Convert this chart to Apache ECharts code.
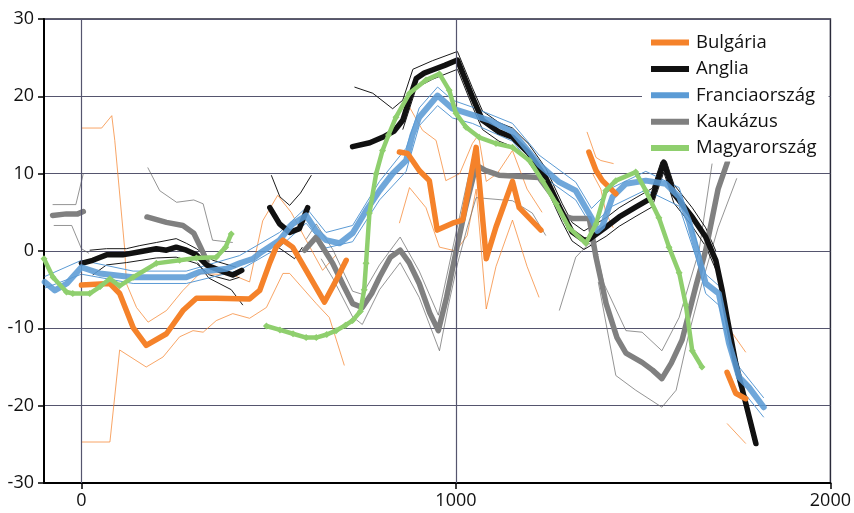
<!DOCTYPE html>
<html>
<head>
<meta charset="utf-8">
<script src="https://cdn.jsdelivr.net/npm/echarts@6/dist/echarts.min.js"></script>
<style>
  html, body { margin: 0; padding: 0; background: #fff; }
  #chart { width: 854px; height: 513px; }
</style>
</head>
<body>
<div id="chart"></div>
<script>
// Axis ticks
const xTickValues = [0, 1000, 2000];
const xVerticalLines = [0, 1000];

// Bulgária: central curve (segments) and thin bounds
const bulgaria1 = [[0,-4.4],[76,-4.2],[102,-5.5],[138,-9.9],[173,-12.2],[227,-10.7],[271,-7.7],[307,-6.1],[360,-6.1],[449,-6.2],[476,-5.1],[503,-1.5],[520,0.5],[538,1.4],[564,0.5],[600,-2.5],[649,-6.6],[680,-3.8],[707,-1.2]];
const bulgaria2 = [[849,12.8],[871,12.6],[902,10.4],[929,9.1],[950,2.7],[991,3.6],[1018,4.0],[1054,13.4],[1081,-1.0],[1107,3.1],[1151,9.0],[1169,5.6],[1227,2.7]];
const bulgaria3 = [[1355,12.8],[1374,10.4],[1391,9.1],[1427,7.4]];
const bulgaria4 = [[1724,-15.7],[1747,-18.4],[1774,-19.1]];
const bulgariaUpper1 = [[0,15.9],[54,15.9],[81,17.5],[89,14.3],[116,0],[120,-4.2],[147,-7.3],[178,-9.2],[227,-7.7],[271,-5.1],[316,-2.9],[404,-3.1],[449,-4.0],[484,3.9],[524,7.2],[560,5],[600,1.4],[644,-2.5],[680,-0.5]];
const bulgariaLower1 = [[0,-24.7],[76,-24.7],[102,-12.8],[173,-15.0],[218,-13.7],[262,-11.1],[298,-10.3],[325,-10.5],[360,-9.0],[404,-8.1],[449,-8.7],[494,-7.3],[538,-2.9],[556,-2.9],[627,-6.8],[662,-8.6],[702,-14.8]];
const bulgariaUpper2 = [[849,16],[876,18.6],[911,15.6],[947,14.3],[973,9.1],[1010,10],[1044,13.9],[1060,15],[1081,9],[1110,10],[1151,13],[1190,8],[1230,5]];
const bulgariaLower2 = [[849,3.6],[876,8.2],[920,5.6],[956,0.5],[1000,0],[1030,2],[1054,8],[1081,-7.5],[1107,-2],[1151,4],[1190,-2],[1222,-6]];
const bulgariaUpper3 = [[1350,15.4],[1374,12.1],[1387,11.7],[1421,11.3]];
const bulgariaLower3 = [[1365,10],[1387,8],[1400,5],[1420,3]];
const bulgariaUpper4 = [[1729,-10],[1774,-13.1]];
const bulgariaLower4 = [[1724,-22.3],[1774,-24.9]];

// Anglia
const anglia1 = [[0,-1.6],[30,-1.2],[67,-0.5],[110,-0.5],[156,-0.1],[200,0.3],[227,0.1],[253,0.5],[280,0.1],[307,-0.5],[334,-1.8],[369,-2.5],[404,-3.1],[428,-2.5]];
const anglia2 = [[503,5.6],[529,3.5],[556,2.4],[582,2.9],[604,5.6]];
const anglia3 = [[724,13.5],[770,14],[804,14.7],[835,15.5],[858,16.9],[875,19.5],[894,22.3],[915,23],[937,23.4],[970,24],[1004,24.7],[1044,19.9],[1071,16.9],[1115,15.4],[1151,14.7],[1195,12.6],[1240,9.5],[1284,4.9],[1310,2.5],[1342,1.4],[1356,1.5],[1401,3.1],[1436,4.4],[1481,5.7],[1524,6.9],[1555,11.5],[1582,7.4],[1631,4.4],[1667,1.8],[1694,-1.2],[1711,-5.1],[1724,-8.6],[1747,-14.5],[1774,-19.7],[1801,-24.9]];
const angliaUpper1 = [[22,0.1],[67,0.3],[120,0.3],[156,0.7],[200,1.1],[253,1.6],[280,1.0],[307,0.3],[351,-1.2],[413,-2.1]];
const angliaLower1 = [[30,-3.1],[67,-1.8],[120,-1.5],[200,-0.9],[253,-0.8],[307,-1.6],[342,-3.1],[396,-3.8],[422,-3.4]];
const angliaDrop1 = [[310,-1.5],[340,-3.5],[400,-5],[431,-7]];
const angliaUpper2 = [[507,9.8],[530,7],[556,5.9],[585,7.5],[614,9.8]];
const angliaLower2 = [[515,0.8],[540,0],[569,-1],[590,0.5]];
const angliaUpper3 = [[729,21.2],[778,20.4],[831,18.4],[858,19.5],[885,23.5],[937,24.6],[1004,25.8],[1044,21.1],[1071,18.1],[1115,16.6],[1151,15.9],[1195,13.8],[1240,10.7],[1284,6.1],[1310,3.7],[1342,2.6],[1401,4.3],[1436,5.6],[1481,6.9],[1524,8.1],[1555,12.6],[1582,8.6],[1631,5.6],[1667,3.0],[1694,0]];
const angliaLower3 = [[858,15.7],[894,21.1],[937,22.2],[1004,23.5],[1044,18.7],[1071,15.7],[1115,14.2],[1151,13.5],[1195,11.4],[1240,8.3],[1284,3.7],[1310,1.3],[1342,0.2],[1401,1.9],[1436,3.2],[1481,4.5],[1524,5.7],[1555,10.2],[1582,6.2],[1631,3.2],[1667,0.6],[1694,-2.4]];

// Franciaország
const francia = [[-98,-4.0],[-71,-5.1],[-39,-4.2],[0,-2.1],[49,-2.9],[138,-3.4],[227,-3.4],[280,-3.4],[316,-2.7],[387,-2.3],[422,-1.6],[458,-1.0],[476,-0.3],[529,1.4],[564,3.5],[600,4.6],[627,2.6],[653,1.4],[689,1.0],[724,2.3],[760,5.2],[796,7.8],[831,10.0],[867,11.7],[884,15],[902,17.3],[951,20.1],[991,18.4],[1044,17.6],[1089,16.9],[1151,15.4],[1187,13.3],[1222,11.2],[1276,8.9],[1320,7.8],[1362,4.3],[1378,2.6],[1391,3.2],[1418,7.0],[1454,8.7],[1507,9.1],[1560,8.7],[1596,7.0],[1622,3.9],[1641,0.5],[1667,-4.2],[1702,-5.5],[1729,-11.9],[1756,-16.3],[1782,-17.6],[1822,-20.2]];
const franciaUpper = [[-98,-3.3],[0,-1.2],[138,-2.6],[280,-2.6],[422,-0.6],[529,2.4],[600,5.6],[653,2.4],[724,3.3],[796,9],[867,13.3],[902,18.5],[951,21.2],[991,19.5],[1044,18.6],[1151,16.5],[1222,12.4],[1320,8.9],[1362,5.5],[1418,8.2],[1507,10.3],[1596,8.2],[1641,1.5],[1667,-3],[1702,-4.5],[1756,-15],[1822,-19]];
const franciaLower = [[-98,-4.8],[0,-3],[138,-4.2],[280,-4.2],[422,-2.5],[529,0.5],[600,3.6],[653,0.4],[724,1.2],[796,6.6],[867,10.3],[902,16.2],[951,18.8],[991,17.2],[1044,16.5],[1151,14.2],[1222,10],[1320,6.6],[1362,3.2],[1418,5.8],[1507,7.9],[1596,5.8],[1641,-0.8],[1667,-5.5],[1702,-7],[1756,-17.5],[1822,-21.5]];

// Kaukázus
const kaukazus1 = [[-77,4.6],[-40,4.8],[-10,4.8],[5,5.1]];
const kaukazus2 = [[175,4.4],[227,3.7],[271,3.3],[300,2.3],[318,0.5],[335,-1.3]];
const kaukazus3 = [[596,0.1],[627,1.8],[671,-1.6],[700,-4.5],[724,-6.8],[750,-7.3],[775,-5.5],[796,-3.4],[825,-0.8],[851,0.1],[875,-1.5],[902,-4.2],[930,-8],[953,-10.3],[975,-6],[1001,0.1],[1025,5.5],[1054,11.1],[1080,10.4],[1115,9.8],[1150,9.7],[1222,9.5],[1260,7],[1290,4.5],[1311,4.2],[1356,4.2],[1374,-0.8],[1401,-6.8],[1430,-11.2],[1454,-13.2],[1497,-14.4],[1525,-15.4],[1550,-16.5],[1575,-14.5],[1604,-11.5],[1641,-4.5],[1667,0.1],[1700,8],[1725,11.5]];
const kaukazusUpper1 = [[-77,6],[-15,6],[5,10]];
const kaukazusLower1 = [[-74,3.3],[-26,3.3],[0,0.3],[20,-0.3]];
const kaukazusUpper2 = [[177,10.8],[209,7.8],[254,6.3],[300,6.6],[325,6.1],[350,1.4],[404,1.1]];
const kaukazusUpper3 = [[600,1.5],[627,3.5],[671,0.2],[724,-5.2],[750,-5.6],[796,-1.8],[851,1.8],[902,-2.6],[953,-8.3],[1001,2.5],[1035,10],[1054,12.5]];
const kaukazusLower3 = [[640,-1],[671,-3.5],[724,-8.5],[750,-9.5],[796,-5],[851,-1.5],[902,-6],[956,-12.9],[980,-7],[1005,-1.5],[1030,3],[1054,6.9],[1151,6.5],[1204,4.9],[1240,2]];
const kaukazusUpper4 = [[1370,1],[1395,-4.2],[1454,-10.3],[1497,-10.5],[1550,-12.9],[1596,-8.6],[1649,0],[1684,11.3]];
const kaukazusLower4 = [[1380,-4],[1427,-16.1],[1480,-18.0],[1550,-20.2],[1588,-18.0],[1622,-10.7],[1657,-4.2],[1700,3],[1750,9.4]];
const kaukazusSide4 = [[1276,-7.7],[1320,-0.8],[1356,1.0],[1380,-0.5]];

// Magyarország
const magyar1 = [[-100,-1.0],[-76,-3.4],[-40,-5.3],[-23,-5.5],[22,-5.5],[50,-4.6],[76,-3.6],[102,-4.5],[138,-3.4],[200,-1.6],[262,-1.2],[307,-0.9],[360,-0.8],[385,0.5],[400,2.2]];
const magyar2 = [[494,-9.7],[530,-10.2],[565,-10.7],[600,-11.2],[627,-11.2],[655,-10.8],[680,-10.3],[705,-9.6],[724,-9.0],[745,-7.8],[755,-5],[760,-1.6],[769,4.9],[787,10.0],[804,13.0],[820,15],[840,17.3],[876,20.4],[920,22.1],[956,22.9],[982,20.8],[1000,17.8],[1027,16.0],[1062,14.7],[1107,13.9],[1151,13.4],[1196,11.7],[1231,9.1],[1268,6.1],[1302,3.0],[1347,1.0],[1374,3.5],[1400,7.8],[1427,9.1],[1480,10.2],[1507,7.8],[1542,4.3],[1569,0.5],[1596,-2.8],[1614,-7],[1631,-12.9],[1657,-15.0]];

const COLORS = {
  bg: '#f5822a', an: '#111111', fr: '#5b9bd5', ka: '#808080', hu: '#8fcf6e'
};

function curve(name, data, color, width, z, extra) {
  return Object.assign({
    type: 'line', name: name, data: data, z: z,
    symbol: 'none', showSymbol: false, animation: false, silent: true,
    lineStyle: { color: color, width: width, cap: 'round', join: 'round' },
    itemStyle: { color: color },
    emphasis: { disabled: true }
  }, extra || {});
}
function thin(data, color, width, opacity) {
  return curve('_thin', data, color, width, 1, {
    lineStyle: { color: color, width: width, opacity: opacity == null ? 1 : opacity }
  });
}

const series = [];
// vertical reference lines at 0 and 1000
series.push({
  type: 'line', name: '_grid', data: [], silent: true, z: 0,
  markLine: {
    silent: true, symbol: 'none', animation: false,
    label: { show: false },
    lineStyle: { color: '#55556e', width: 1.2, type: 'solid' },
    data: xVerticalLines.map(v => ({ xAxis: v }))
  }
});

// thin bounds
[bulgariaUpper1, bulgariaLower1, bulgariaUpper2, bulgariaLower2, bulgariaUpper3, bulgariaLower3, bulgariaUpper4, bulgariaLower4]
  .forEach(d => series.push(thin(d, '#f5822a', 0.8, 0.9)));
[kaukazusUpper1, kaukazusLower1, kaukazusUpper2, kaukazusUpper3, kaukazusLower3, kaukazusUpper4, kaukazusLower4, kaukazusSide4]
  .forEach(d => series.push(thin(d, '#6a6a6a', 0.8, 0.9)));
[angliaUpper1, angliaLower1, angliaDrop1, angliaUpper2, angliaLower2, angliaUpper3, angliaLower3]
  .forEach(d => series.push(thin(d, '#1a1a1a', 1, 1)));
[franciaUpper, franciaLower]
  .forEach(d => series.push(thin(d, '#5b9bd5', 1, 1)));

// main curves
[kaukazus1, kaukazus2, kaukazus3].forEach(d => series.push(curve('Kaukázus', d, COLORS.ka, 5.5, 3)));
[anglia1, anglia2, anglia3].forEach(d => series.push(curve('Anglia', d, COLORS.an, 5.5, 4)));
series.push(curve('Franciaország', francia, COLORS.fr, 6, 5, {
  lineStyle: { color: COLORS.fr, width: 6, opacity: 0.88, cap: 'round', join: 'round' }
}));
[bulgaria1, bulgaria2, bulgaria3, bulgaria4].forEach(d => series.push(curve('Bulgária', d, COLORS.bg, 5.5, 6)));
[magyar1, magyar2].forEach(d => series.push(curve('Magyarország', d, COLORS.hu, 4.5, 7, {
  symbol: 'diamond', showSymbol: true, symbolSize: 7,
  itemStyle: { color: COLORS.hu }
})));

const legendNames = ['Bulgária', 'Anglia', 'Franciaország', 'Kaukázus', 'Magyarország'];
const legendColors = [COLORS.bg, COLORS.an, COLORS.fr, COLORS.ka, COLORS.hu];

const font = '"Open Sans", "DejaVu Sans", sans-serif';
const chart = echarts.init(document.getElementById('chart'), null, { renderer: 'canvas' });
chart.setOption({
  animation: false,
  backgroundColor: '#ffffff',
  grid: {
    left: 44, right: 21, top: 19, bottom: 30,
    show: true, borderColor: '#2a2a3a', borderWidth: 1.5, backgroundColor: 'transparent'
  },
  legend: {
    data: legendNames.map((n, i) => ({
      name: n, icon: 'rect',
      itemStyle: { color: legendColors[i], borderWidth: 0 }
    })),
    orient: 'vertical', left: 642, top: 27,
    backgroundColor: '#ffffff',
    padding: [6, 12, 4, 9],
    itemWidth: 38, itemHeight: 6, itemGap: 7.4,
    selectedMode: false,
    textStyle: { fontFamily: font, fontSize: 18.5, color: '#111', padding: [0, 0, 0, 2] }
  },
  xAxis: {
    type: 'value', min: -100, max: 2000,
    axisLine: { show: true, onZero: false, lineStyle: { color: '#000', width: 2 } },
    axisTick: { show: true, length: 6, customValues: xTickValues, lineStyle: { color: '#000', width: 1.5 } },
    axisLabel: {
      customValues: xTickValues, fontFamily: font, fontSize: 18, color: '#111', margin: 9,
      formatter: v => String(v)
    },
    splitLine: { show: false }
  },
  yAxis: {
    type: 'value', min: -30, max: 30, interval: 10,
    axisLine: { show: true, onZero: false, lineStyle: { color: '#000', width: 2 } },
    axisTick: { show: true, length: 6, lineStyle: { color: '#000', width: 1.5 } },
    axisLabel: { fontFamily: font, fontSize: 18, color: '#111', margin: 10 },
    splitLine: { show: true, lineStyle: { color: '#55556e', width: 1.2 } }
  },
  series: series
});
</script>
</body>
</html>
